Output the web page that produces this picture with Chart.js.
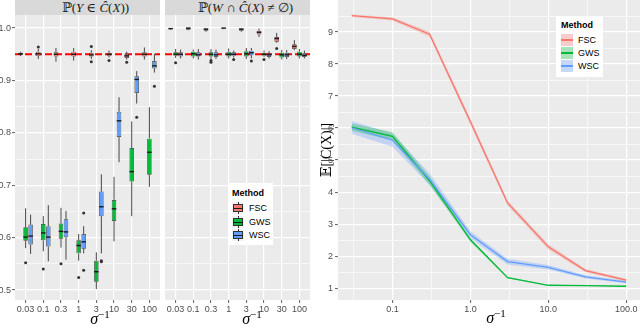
<!DOCTYPE html>
<html lang="en">
<head>
<meta charset="UTF-8">
<title>Coverage and set size</title>
<script src="https://cdn.jsdelivr.net/npm/chart.js"></script>
<style>
  body { margin: 0; background: #fff; }
  #wrap { position: relative; width: 640px; height: 328px; overflow: hidden; font-family: "Liberation Sans", Arial, sans-serif; }
  canvas { position: absolute; }
  .strip { position: absolute; top: 0; height: 15px; background: #D9D9D9; color: #1A1A1A;
           font: 13px "Liberation Serif", "DejaVu Serif", serif; line-height: 15px; text-align: center;
           white-space: nowrap; box-sizing: border-box; padding-left: 16px; }
  .xlab { position: absolute; width: 40px; text-align: center; font: italic 16px "Liberation Serif", "DejaVu Serif", serif; color: #000; line-height: 18px; }
  .xlab sup { font-size: 11px; font-style: normal; vertical-align: 6px; line-height: 0; }
  .legend { position: absolute; background: #fff; color: #000; font-size: 9px; }
  .legend .ttl { position: absolute; font-weight: bold; line-height: 10px; }
  .legend .txt { position: absolute; line-height: 10px; }
  .key { position: absolute; width: 12px; height: 12px; background: #F2F2F2; }
</style>
</head>
<body>
<div id="wrap">
  <div class="strip" style="left:15px;width:145px">ℙ(<i>Y</i> ∈ <i>Ĉ</i>(<i>X</i>))</div>
  <div class="strip" style="left:165px;width:145px">ℙ(<i>W</i> ∩ <i>Ĉ</i>(<i>X</i>) ≠ ∅)</div>
  <canvas id="facetY" width="160" height="313" style="left:0;top:15px"></canvas>
  <canvas id="facetW" width="145" height="313" style="left:165px;top:15px"></canvas>
  <canvas id="sizeChart" width="320" height="328" style="left:320px;top:0"></canvas>
  <div class="xlab" style="left:80px;top:310px">σ<sup>−1</sup></div>
  <div class="xlab" style="left:232px;top:310px">σ<sup>−1</sup></div>
  <div class="xlab" style="left:476px;top:309px">σ<sup>−1</sup></div>
  <div class="legend" id="legBox" style="left:229px;top:183px;width:44px;height:62px"></div>
  <div class="legend" id="legLine" style="left:556px;top:16px;width:47px;height:61px"></div>
</div>

<script>
const sigmaLabels = ['0.03', '0.1', '0.3', '1', '3', '10', '30', '100'];
const sigmaValues = [0.03, 0.1, 0.3, 1, 3, 10, 30, 100];
const methodNames = ['FSC', 'GWS', 'WSC'];
const methodColors = ['#F8766D', '#00BA38', '#619CFF'];
const bandColors = ['rgba(248,118,109,0.3)', 'rgba(0,186,56,0.3)', 'rgba(97,156,255,0.3)'];
const targetLevel = 0.95;

// boxplot stats per sigma: [whisker low, q1, median, q3, whisker high]
const covY_FSC = [[0.947, 0.949, 0.951, 0.953, 0.955], [0.941, 0.947, 0.951, 0.955, 0.960], [0.936, 0.946, 0.950, 0.954, 0.962], [0.938, 0.946, 0.950, 0.955, 0.962],
                  [0.941, 0.946, 0.949, 0.953, 0.958], [0.944, 0.947, 0.950, 0.953, 0.957], [0.940, 0.943, 0.947, 0.951, 0.955], [0.940, 0.946, 0.950, 0.954, 0.963]];
const covY_GWS = [[0.580, 0.594, 0.601, 0.620, 0.656], [0.574, 0.595, 0.609, 0.626, 0.641], [0.581, 0.598, 0.612, 0.627, 0.657], [0.556, 0.570, 0.585, 0.595, 0.607],
                  [0.502, 0.516, 0.535, 0.556, 0.572], [0.593, 0.632, 0.655, 0.672, 0.716], [0.641, 0.707, 0.726, 0.771, 0.822], [0.697, 0.720, 0.763, 0.789, 0.849]];
const covY_WSC = [[0.569, 0.587, 0.603, 0.625, 0.644], [0.555, 0.583, 0.601, 0.622, 0.662], [0.558, 0.601, 0.611, 0.635, 0.651], [0.570, 0.579, 0.592, 0.607, 0.622],
                  [0.570, 0.641, 0.659, 0.688, 0.721], [0.744, 0.792, 0.823, 0.840, 0.868], [0.856, 0.876, 0.902, 0.908, 0.918], [0.915, 0.923, 0.928, 0.937, 0.951]];
const covY_FSC_out = [[], [0.964], [], [], [0.965, 0.936], [0.938], [0.935], []];
const covY_GWS_out = [[0.552], [0.540], [0.550], [0.524], [], [], [], []];
const covY_WSC_out = [[], [], [], [0.647, 0.538], [0.554, 0.556], [], [0.830], [0.889]];

const covW_FSC = [[0.997, 0.998, 0.999, 0.999, 1.000], [0.996, 0.997, 1.000, 1.000, 1.000], [0.993, 0.995, 0.998, 0.999, 1.000], [0.998, 0.999, 1.000, 1.000, 1.000],
                  [0.993, 0.995, 0.998, 0.999, 1.000], [0.983, 0.988, 0.992, 0.995, 0.999], [0.972, 0.974, 0.980, 0.983, 0.991], [0.958, 0.960, 0.965, 0.969, 0.977]];
const covW_GWS = [[0.943, 0.947, 0.950, 0.954, 0.960], [0.942, 0.946, 0.951, 0.955, 0.959], [0.941, 0.946, 0.950, 0.954, 0.960], [0.942, 0.946, 0.950, 0.955, 0.961],
                  [0.941, 0.946, 0.951, 0.956, 0.962], [0.945, 0.947, 0.950, 0.953, 0.957], [0.940, 0.944, 0.949, 0.953, 0.958], [0.942, 0.946, 0.950, 0.955, 0.960]];
const covW_WSC = [[0.942, 0.946, 0.950, 0.954, 0.959], [0.940, 0.946, 0.949, 0.954, 0.960], [0.941, 0.945, 0.949, 0.954, 0.959], [0.944, 0.947, 0.950, 0.954, 0.957],
                  [0.942, 0.948, 0.953, 0.957, 0.962], [0.942, 0.945, 0.949, 0.952, 0.956], [0.941, 0.945, 0.949, 0.953, 0.958], [0.942, 0.945, 0.948, 0.952, 0.957]];
const covW_FSC_out = [[], [], [], [], [], [], [0.961], []];
const covW_GWS_out = [[0.934], [], [0.938, 0.935], [], [], [0.940], [], []];
const covW_WSC_out = [[], [], [], [0.940], [0.937], [], [], []];

// mean set size with band
const setSize_FSC    = [9.51, 9.41, 8.93, 6.20, 3.66, 2.29, 1.55, 1.25];
const setSize_FSC_lo = [9.47, 9.36, 8.85, 6.10, 3.58, 2.21, 1.50, 1.21];
const setSize_FSC_hi = [9.55, 9.46, 9.01, 6.30, 3.74, 2.37, 1.60, 1.29];
const setSize_GWS    = [6.03, 5.74, 4.35, 2.51, 1.33, 1.09, 1.08, 1.06];
const setSize_GWS_lo = [5.92, 5.62, 4.22, 2.45, 1.31, 1.08, 1.07, 1.05];
const setSize_GWS_hi = [6.14, 5.88, 4.48, 2.57, 1.35, 1.10, 1.09, 1.07];
const setSize_WSC    = [6.01, 5.62, 4.40, 2.67, 1.83, 1.65, 1.35, 1.19];
const setSize_WSC_lo = [5.82, 5.42, 4.22, 2.56, 1.74, 1.58, 1.30, 1.15];
const setSize_WSC_hi = [6.22, 5.82, 4.58, 2.78, 1.92, 1.72, 1.40, 1.23];

const coverageTicks = [0.5, 0.6, 0.7, 0.8, 0.9, 1.0];
const sizeTicks = [1, 2, 3, 4, 5, 6, 7, 8, 9];
const sigmaTicks = [0.1, 1, 10, 100];

Chart.defaults.font.family = '"Liberation Sans", Arial, sans-serif';
const axisText = { color: '#4D4D4D', font: { size: 9 } };

// helpers for major / minor grid
const near = (a, b) => Math.abs(a - b) < 1e-9;
const isMajorCov = v => coverageTicks.some(t => near(t, v));
const midpoints = arr => arr.slice(0, -1).map((v, i) => (v + arr[i + 1]) / 2);
const covGrid = coverageTicks.concat(midpoints(coverageTicks)).sort((a, b) => a - b);

const panelBg = {
  id: 'panelBg',
  beforeDraw(chart) {
    const { ctx, chartArea: a } = chart;
    ctx.save();
    ctx.fillStyle = '#EBEBEB';
    ctx.fillRect(a.left, a.top, a.right - a.left, a.bottom - a.top);
    ctx.restore();
  }
};

const refLine = {
  id: 'refLine',
  beforeDatasetsDraw(chart) {
    const { ctx, chartArea: a, scales } = chart;
    const y = scales.y.getPixelForValue(targetLevel);
    ctx.save();
    ctx.strokeStyle = '#FF0000';
    ctx.lineWidth = 2;
    ctx.setLineDash([7, 3]);
    ctx.beginPath();
    ctx.moveTo(a.left, y);
    ctx.lineTo(a.right, y);
    ctx.stroke();
    ctx.restore();
  }
};

// whiskers, medians and outlier points, placed on the drawn boxes
const boxExtras = {
  id: 'boxExtras',
  afterDatasetsDraw(chart) {
    const { ctx, scales } = chart;
    const py = v => scales.y.getPixelForValue(v);
    ctx.save();
    chart.data.datasets.forEach((ds, i) => {
      if (!ds.stats) return;
      chart.getDatasetMeta(i).data.forEach((bar, j) => {
        const { x, width } = bar.getProps(['x', 'width'], true);
        const s = ds.stats[j];
        ctx.strokeStyle = '#333333';
        ctx.lineWidth = 0.9;
        ctx.beginPath();
        ctx.moveTo(x, py(s[0]));
        ctx.lineTo(x, py(s[1]));
        ctx.moveTo(x, py(s[3]));
        ctx.lineTo(x, py(s[4]));
        ctx.stroke();
        ctx.strokeStyle = '#1A1A1A';
        ctx.lineWidth = 1.4;
        ctx.beginPath();
        ctx.moveTo(x - width / 2, py(s[2]));
        ctx.lineTo(x + width / 2, py(s[2]));
        ctx.stroke();
        ctx.fillStyle = '#333333';
        ds.outliers[j].forEach(o => {
          ctx.beginPath();
          ctx.arc(x, py(o), 1.5, 0, Math.PI * 2);
          ctx.fill();
        });
      });
    });
    ctx.restore();
  }
};

function boxChart(id, stats, outliers, showY) {
  const boxes = stats.map((s, m) => ({
    label: methodNames[m],
    data: s.map((v, i) => ({ x: i + 1, y: [v[1], v[3]] })),
    backgroundColor: methodColors[m],
    borderColor: '#333333',
    borderWidth: 0.7,
    borderSkipped: false,
    stats: s,
    outliers: outliers[m]
  }));

  return new Chart(document.getElementById(id), {
    type: 'bar',
    data: { datasets: boxes },
    plugins: [panelBg, refLine, boxExtras],
    options: {
      responsive: false,
      animation: false,
      events: [],
      layout: { padding: 0 },
      categoryPercentage: 0.85,
      barPercentage: 0.9,
      plugins: { legend: { display: false }, tooltip: { enabled: false } },
      scales: {
        x: {
          type: 'linear', min: 0.4, max: 8.6, offset: false,
          afterBuildTicks: s => { s.ticks = sigmaLabels.map((_, i) => ({ value: i + 1 })); },
          afterFit: s => { s.height = 28; s.paddingLeft = 0; s.paddingRight = 0; },
          ticks: { ...axisText, autoSkip: false, maxRotation: 0, padding: 1, callback: (v, i) => sigmaLabels[i] },
          grid: { offset: false, color: '#FFFFFF', lineWidth: 1.2, tickLength: 3, tickColor: '#333333', tickWidth: 0.8 },
          border: { display: false }
        },
        y: {
          min: 0.481, max: 1.025,
          afterBuildTicks: s => { s.ticks = covGrid.map(v => ({ value: v })); },
          afterFit: s => { s.width = showY ? 15 : 0; s.paddingTop = 0; s.paddingBottom = 0; },
          ticks: { ...axisText, display: showY, padding: 1, autoSkip: false, callback: v => isMajorCov(v) ? v.toFixed(1) : '' },
          grid: {
            color: '#FFFFFF',
            lineWidth: c => isMajorCov(c.tick.value) ? 1.2 : 0.6,
            drawTicks: showY, tickLength: 3, tickWidth: 0.8,
            tickColor: c => isMajorCov(c.tick.value) ? '#333333' : 'rgba(0,0,0,0)'
          },
          border: { display: false }
        }
      }
    }
  });
}

boxChart('facetY', [covY_FSC, covY_GWS, covY_WSC], [covY_FSC_out, covY_GWS_out, covY_WSC_out], true);
boxChart('facetW', [covW_FSC, covW_GWS, covW_WSC], [covW_FSC_out, covW_GWS_out, covW_WSC_out], false);

// right panel: expected set size
const pts = arr => arr.map((v, i) => ({ x: sigmaValues[i], y: v }));
const means = [setSize_FSC, setSize_GWS, setSize_WSC];
const lows = [setSize_FSC_lo, setSize_GWS_lo, setSize_WSC_lo];
const highs = [setSize_FSC_hi, setSize_GWS_hi, setSize_WSC_hi];

const sizeSets = [];
methodNames.forEach((name, m) => {
  sizeSets.push({ label: name + ' low', data: pts(lows[m]), borderWidth: 0, pointRadius: 0, fill: false, order: 10 });
  sizeSets.push({ label: name + ' high', data: pts(highs[m]), borderWidth: 0, pointRadius: 0, fill: '-1', backgroundColor: bandColors[m], order: 10 });
});
methodNames.forEach((name, m) => {
  sizeSets.push({ label: name, data: pts(means[m]), borderColor: methodColors[m], borderWidth: 1.3, pointRadius: 0, fill: false, order: 2 - m });
});

const logGrid = [];
for (let e = -1.5; e <= 2; e += 0.5) logGrid.push(Math.pow(10, e));
const isMajorSigma = v => sigmaTicks.some(t => Math.abs(Math.log10(t) - Math.log10(v)) < 1e-6);
const sizeGrid = sizeTicks.concat(midpoints(sizeTicks)).sort((a, b) => a - b);
sizeGrid.push(9.5);
const isMajorSize = v => sizeTicks.some(t => near(t, v));

new Chart(document.getElementById('sizeChart'), {
  type: 'line',
  data: { datasets: sizeSets },
  plugins: [panelBg],
  options: {
    responsive: false,
    animation: false,
    events: [],
    layout: { padding: 0 },
    plugins: { legend: { display: false }, tooltip: { enabled: false } },
    scales: {
      x: {
        type: 'logarithmic', min: 0.02, max: 150,
        afterBuildTicks: s => { s.ticks = logGrid.map(v => ({ value: v })); },
        afterFit: s => { s.height = 28; s.paddingLeft = 0; s.paddingRight = 0; },
        ticks: { ...axisText, autoSkip: false, maxRotation: 0, padding: 1, callback: v => isMajorSigma(v) ? Number(v).toFixed(1) : '' },
        grid: {
          color: '#FFFFFF',
          lineWidth: c => isMajorSigma(c.tick.value) ? 1.2 : 0.6,
          tickLength: 3, tickWidth: 0.8,
          tickColor: c => isMajorSigma(c.tick.value) ? '#333333' : 'rgba(0,0,0,0)'
        },
        border: { display: false }
      },
      y: {
        min: 0.63, max: 10.0,
        afterBuildTicks: s => { s.ticks = sizeGrid.map(v => ({ value: v })); },
        afterFit: s => { s.width = 18; s.paddingTop = 0; s.paddingBottom = 0; },
        ticks: { ...axisText, autoSkip: false, padding: 2, callback: v => isMajorSize(v) ? String(v) : '' },
        grid: {
          color: '#FFFFFF',
          lineWidth: c => isMajorSize(c.tick.value) ? 1.2 : 0.6,
          tickLength: 3, tickWidth: 0.8,
          tickColor: c => isMajorSize(c.tick.value) ? '#333333' : 'rgba(0,0,0,0)'
        },
        border: { display: false },
        title: {
          display: true,
          text: '𝔼[|Ĉ(X)|]',
          color: '#000000',
          padding: 0,
          font: { family: '"Liberation Serif", "DejaVu Serif", serif', size: 14, lineHeight: 1 }
        }
      }
    }
  }
});

// legends
function buildLegend(id, rows, keyLeft, textLeft, titleTop, drawKey) {
  const box = document.getElementById(id);
  const ttl = document.createElement('div');
  ttl.className = 'ttl';
  ttl.style.left = keyLeft + 'px';
  ttl.style.top = titleTop + 'px';
  ttl.textContent = 'Method';
  box.appendChild(ttl);
  methodNames.forEach((name, m) => {
    const key = document.createElement('div');
    key.className = 'key';
    key.style.left = keyLeft + 'px';
    key.style.top = (rows[m] - 6) + 'px';
    drawKey(key, m);
    box.appendChild(key);
    const txt = document.createElement('div');
    txt.className = 'txt';
    txt.style.left = textLeft + 'px';
    txt.style.top = (rows[m] - 5) + 'px';
    txt.textContent = name;
    box.appendChild(txt);
  });
}

buildLegend('legBox', [25, 39, 52], 3, 20, 5, (key, m) => {
  key.innerHTML =
    '<div style="position:absolute;left:5.5px;top:0;width:1px;height:12px;background:#333"></div>' +
    '<div style="position:absolute;left:1px;top:2px;width:8px;height:6px;border:1px solid #333;background:' + methodColors[m] + '"></div>' +
    '<div style="position:absolute;left:1px;top:5.5px;width:10px;height:1.3px;background:#1A1A1A"></div>';
});
buildLegend('legLine', [24, 37, 50], 5, 22, 4, (key, m) => {
  key.style.background = '#F2F2F2';
  key.innerHTML =
    '<div style="position:absolute;left:0;top:0;width:12px;height:12px;background:' + bandColors[m] + '"></div>' +
    '<div style="position:absolute;left:0;top:5.4px;width:12px;height:1.3px;background:' + methodColors[m] + '"></div>';
});
</script>
</body>
</html>
